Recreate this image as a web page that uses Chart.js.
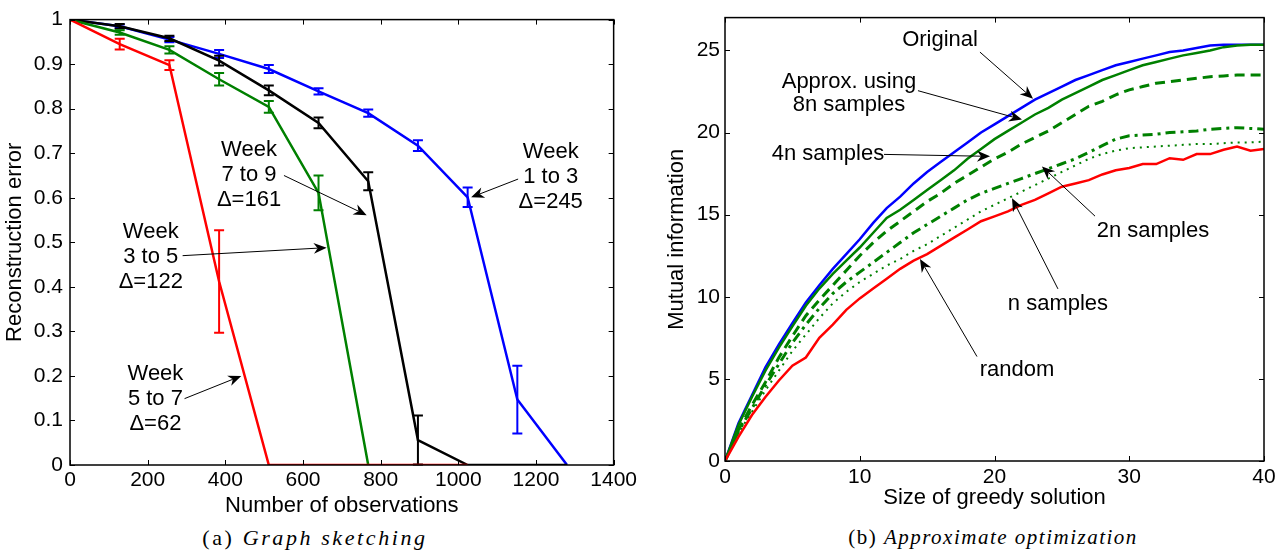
<!DOCTYPE html>
<html>
<head>
<meta charset="utf-8">
<script src="https://cdn.jsdelivr.net/npm/chart.js@4.4.1/dist/chart.umd.min.js"></script>
<style>
  body { margin: 0; background: #fff; width: 1280px; height: 550px; overflow: hidden; position: relative; }
  .box { position: absolute; top: 0; width: 640px; height: 520px; }
  #left { left: 0; }
  #right { left: 640px; }
  .cap { position: absolute; top: 525px; transform: translateX(-50%); white-space: nowrap;
         font-family: "Liberation Serif", "DejaVu Serif", serif; font-size: 21px; letter-spacing: 1.5px; }
</style>
</head>
<body>
<div class="box" id="left"><canvas id="sketchChart"></canvas></div>
<div class="box" id="right"><canvas id="optChart"></canvas></div>
<div class="cap" style="left:315px; font-size:22px; letter-spacing:2.6px">(a) <i>Graph sketching</i></div>
<div class="cap" style="left:993px">(b) <i>Approximate optimization</i></div>

<script>
// --- data: (a) graph sketching ---
const observations = [0, 128, 256, 384, 512, 640, 768, 896, 1024, 1152, 1280];
const week13 = [1, 0.985, 0.955, 0.923, 0.889, 0.839, 0.79, 0.717, 0.601, 0.147, 0];
const week13Err = [0, 0.004, 0.006, 0.009, 0.009, 0.007, 0.008, 0.012, 0.022, 0.076, 0];
const week79 = [1, 0.985, 0.958, 0.908, 0.841, 0.768, 0.637, 0.056, 0, 0, 0];
const week79Err = [0, 0.005, 0.006, 0.011, 0.011, 0.012, 0.02, 0.055, 0, 0, 0];
const week35 = [1, 0.971, 0.932, 0.866, 0.804, 0.611, 0];
const week35Err = [0, 0.005, 0.008, 0.014, 0.013, 0.039, 0];
const week57 = [1, 0.945, 0.898, 0.412, 0, 0, 0, 0, 0];
const week57Err = [0, 0.012, 0.011, 0.115, 0, 0, 0, 0, 0];
const sketchXTicks = [0, 1400, 200];
const sketchYTicks = [0, 1, 0.1];

// --- data: (b) approximate optimization ---
const greedySize = Array.from({ length: 41 }, (_, i) => i);
const original = [0, 2.3, 4.0, 5.7, 7.1, 8.4, 9.65, 10.7, 11.7, 12.6, 13.5, 14.5, 15.4, 16.1, 16.9, 17.6, 18.2, 18.8, 19.4, 20.0, 20.5,
  21.0, 21.5, 22.0, 22.4, 22.8, 23.2, 23.5, 23.8, 24.1, 24.3, 24.5, 24.7, 24.9, 25.0, 25.15, 25.3, 25.35, 25.35, 25.35, 25.35];
const samples8n = [0, 2.2, 3.9, 5.5, 6.9, 8.2, 9.45, 10.5, 11.4, 12.2, 13.0, 13.9, 14.8, 15.3, 15.9, 16.5, 17.1, 17.7, 18.4, 19.0, 19.6,
  20.1, 20.6, 21.1, 21.5, 22.0, 22.4, 22.8, 23.2, 23.5, 23.8, 24.1, 24.3, 24.5, 24.7, 24.85, 25.0, 25.2, 25.3, 25.35, 25.35];
const samples4n = [0, 1.9, 3.4, 4.8, 6.3, 7.6, 8.85, 9.8, 10.7, 11.6, 12.5, 13.3, 14.0, 14.6, 15.2, 15.8, 16.3, 16.9, 17.4, 17.9, 18.4,
  18.8, 19.3, 19.7, 20.1, 20.6, 21.1, 21.6, 21.9, 22.3, 22.6, 22.8, 23.0, 23.1, 23.2, 23.3, 23.4, 23.45, 23.5, 23.5, 23.5];
const samples2n = [0, 1.8, 3.2, 4.6, 5.9, 7.2, 8.3, 9.3, 10.2, 10.9, 11.5, 12.1, 12.7, 13.3, 13.9, 14.4, 14.9, 15.4, 15.9, 16.3, 16.6,
  16.9, 17.2, 17.5, 17.8, 18.1, 18.4, 18.8, 19.2, 19.6, 19.8, 19.85, 19.9, 20.0, 20.05, 20.1, 20.2, 20.25, 20.3, 20.25, 20.2];
const samples1n = [0, 1.7, 3.0, 4.3, 5.5, 6.7, 7.7, 8.7, 9.6, 10.3, 10.9, 11.4, 11.9, 12.3, 12.8, 13.2, 13.7, 14.2, 14.7, 15.2, 15.6,
  16.0, 16.4, 16.8, 17.2, 17.6, 18.0, 18.4, 18.7, 18.9, 19.05, 19.1, 19.15, 19.2, 19.25, 19.3, 19.3, 19.35, 19.4, 19.4, 19.45];
const randomSel = [0, 1.47, 2.8, 3.9, 4.9, 5.8, 6.3, 7.5, 8.3, 9.2, 9.9, 10.5, 11.1, 11.7, 12.2, 12.6, 13.1, 13.6, 14.1, 14.6, 14.9,
  15.2, 15.6, 15.9, 16.3, 16.7, 16.9, 17.1, 17.45, 17.7, 17.84, 18.08, 18.08, 18.44, 18.34, 18.69, 18.69, 18.95, 19.15, 18.9, 19.0];
const optXTicks = [0, 40, 10];
const optYTicks = [0, 27, 5];

// --- annotations (data coordinates) ---
const sketchNotes = [
  { text: ['Week', '1 to 3', 'Δ=245'], at: [1238, 0.646], from: [1154, 0.642], to: [1033, 0.601] },
  { text: ['Week', '7 to 9', 'Δ=161'], at: [461, 0.651], from: [551, 0.650], to: [764, 0.561] },
  { text: ['Week', '3 to 5', 'Δ=122'], at: [208, 0.468], from: [290, 0.470], to: [661, 0.488] },
  { text: ['Week', '5 to 7', 'Δ=62'], at: [220, 0.149], from: [295, 0.149], to: [441, 0.200] }
];
const optNotes = [
  { text: ['Original'], at: [15.96, 25.64], from: [18.92, 24.9], to: [22.86, 22.06] },
  { text: ['Approx. using', '8n samples'], at: [9.2, 22.4], lh: 23, from: [14.32, 22.55], to: [22.04, 20.79] },
  { text: ['4n samples'], at: [7.64, 18.67], from: [11.8, 18.67], to: [19.67, 18.55] },
  { text: ['2n samples'], at: [31.76, 14.0], from: [27.46, 14.91], to: [23.52, 17.94] },
  { text: ['n samples'], at: [24.71, 9.58], from: [24.71, 10.48], to: [21.3, 16.0] },
  { text: ['random'], at: [21.67, 5.52], from: [18.7, 6.36], to: [14.47, 12.3] }
];

const FONT = "'Liberation Sans', Arial, sans-serif";

const pairs = (xs, ys) => ys.map((v, i) => ({ x: xs[i], y: v }));

// error bars, drawn right after each dataset
const errorBars = {
  id: 'errorBars',
  afterDatasetDraw(chart, args) {
    const ds = chart.data.datasets[args.index];
    if (!ds.errors) return;
    const { ctx, scales: { x, y } } = chart;
    ctx.save();
    ctx.strokeStyle = ds.borderColor;
    ctx.lineWidth = 2;
    ds.data.forEach((p, i) => {
      const e = ds.errors[i];
      if (!e) return;
      const px = x.getPixelForValue(p.x);
      const top = y.getPixelForValue(p.y + e), bot = y.getPixelForValue(p.y - e);
      ctx.beginPath();
      ctx.moveTo(px, top); ctx.lineTo(px, bot);
      ctx.moveTo(px - 5, top); ctx.lineTo(px + 5, top);
      ctx.moveTo(px - 5, bot); ctx.lineTo(px + 5, bot);
      ctx.stroke();
    });
    ctx.restore();
  }
};

// matlab style box with inward ticks
const boxTicks = {
  id: 'boxTicks',
  afterDraw(chart) {
    const { ctx, chartArea: a, scales: { x, y } } = chart;
    ctx.save();
    ctx.strokeStyle = '#000';
    ctx.lineWidth = 1;
    ctx.beginPath();
    x.ticks.forEach(t => {
      const px = Math.round(x.getPixelForValue(t.value)) + 0.5;
      ctx.moveTo(px, a.bottom); ctx.lineTo(px, a.bottom - 5);
      ctx.moveTo(px, a.top); ctx.lineTo(px, a.top + 5);
    });
    y.ticks.forEach(t => {
      const py = Math.round(y.getPixelForValue(t.value)) + 0.5;
      ctx.moveTo(a.left, py); ctx.lineTo(a.left + 5, py);
      ctx.moveTo(a.right, py); ctx.lineTo(a.right - 5, py);
    });
    ctx.stroke();
    ctx.lineWidth = 1.5;
    ctx.strokeRect(a.left, a.top, a.right - a.left, a.bottom - a.top);
    ctx.restore();
  }
};

// text labels with arrows
const notes = {
  id: 'notes',
  afterDraw(chart, args, opts) {
    const { ctx, scales: { x, y } } = chart;
    (opts.items || []).forEach(n => {
      ctx.save();
      ctx.fillStyle = '#000';
      ctx.strokeStyle = '#000';
      ctx.font = '22px ' + FONT;
      ctx.textAlign = 'center';
      ctx.textBaseline = 'middle';
      const cx = x.getPixelForValue(n.at[0]), cy = y.getPixelForValue(n.at[1]);
      const lh = n.lh || 25;
      n.text.forEach((t, i) => ctx.fillText(t, cx, cy + (i - (n.text.length - 1) / 2) * lh));

      const x0 = x.getPixelForValue(n.from[0]), y0 = y.getPixelForValue(n.from[1]);
      const x1 = x.getPixelForValue(n.to[0]), y1 = y.getPixelForValue(n.to[1]);
      const ang = Math.atan2(y1 - y0, x1 - x0);
      const len = 13, half = 5.5;
      const bx = x1 - len * Math.cos(ang), by = y1 - len * Math.sin(ang);
      const nx = x1 - len * 0.7 * Math.cos(ang), ny = y1 - len * 0.7 * Math.sin(ang);
      ctx.lineWidth = 1;
      ctx.beginPath();
      ctx.moveTo(x0, y0); ctx.lineTo(nx, ny);
      ctx.stroke();
      ctx.beginPath();
      ctx.moveTo(x1, y1);
      ctx.lineTo(bx + half * Math.sin(ang), by - half * Math.cos(ang));
      ctx.lineTo(nx, ny);
      ctx.lineTo(bx - half * Math.sin(ang), by + half * Math.cos(ang));
      ctx.closePath();
      ctx.fill();
      ctx.restore();
    });
  }
};

function axes(xt, yt, sizes, titles, fmt) {
  return {
    x: {
      type: 'linear', min: xt[0], max: xt[1],
      grid: { display: false, drawTicks: false }, border: { display: false },
      ticks: { stepSize: xt[2], color: '#000', font: { family: FONT, size: 21 }, padding: sizes.xPad, maxRotation: 0,
               callback: v => String(v) },
      title: { display: true, text: titles[0], color: '#000', font: { family: FONT, size: 22 }, padding: { bottom: sizes.xTitle } },
      afterFit: s => { s.height = sizes.xh; }
    },
    y: {
      type: 'linear', min: yt[0], max: yt[1],
      grid: { display: false, drawTicks: false }, border: { display: false },
      ticks: { stepSize: yt[2], color: '#000', font: { family: FONT, size: 21 }, padding: sizes.yPad, callback: fmt },
      afterBuildTicks: s => { s.ticks = s.ticks.filter(t => Math.abs(t.value / yt[2] - Math.round(t.value / yt[2])) < 1e-6); },
      title: { display: true, text: titles[1], color: '#000', font: { family: FONT, size: 22 }, padding: { top: sizes.yTitle } },
      afterFit: s => { s.width = sizes.yw; }
    }
  };
}

const common = {
  responsive: true,
  maintainAspectRatio: false,
  animation: false,
  events: [],
  elements: { point: { radius: 0 }, line: { tension: 0, borderCapStyle: 'butt' } }
};

new Chart(document.getElementById('sketchChart'), {
  type: 'line',
  data: {
    datasets: [
      { data: pairs(observations, week13), errors: week13Err, borderColor: '#0000ff', borderWidth: 2.5, order: 4 },
      { data: pairs(observations, week79), errors: week79Err, borderColor: '#000000', borderWidth: 2.5, order: 3 },
      { data: pairs(observations, week35), errors: week35Err, borderColor: '#008000', borderWidth: 2.5, order: 2 },
      { data: pairs(observations, week57), errors: week57Err, borderColor: '#ff0000', borderWidth: 2.5, order: 1 }
    ]
  },
  options: {
    ...common,
    layout: { autoPadding: false, padding: { top: 16, right: 24, left: 0, bottom: 0 } },
    plugins: { legend: { display: false }, tooltip: { enabled: false }, notes: { items: sketchNotes } },
    scales: axes(sketchXTicks, sketchYTicks, { xh: 55, yw: 70, xPad: 3, yPad: 7, xTitle: 1, yTitle: 2 },
      ['Number of observations', 'Reconstruction error'], v => String(+v.toFixed(1)))
  },
  plugins: [errorBars, boxTicks, notes]
});

new Chart(document.getElementById('optChart'), {
  type: 'line',
  data: {
    datasets: [
      { data: pairs(greedySize, original), borderColor: '#0000ff', borderWidth: 2.5, order: 6 },
      { data: pairs(greedySize, samples8n), borderColor: '#008000', borderWidth: 2.5, order: 5 },
      { data: pairs(greedySize, samples4n), borderColor: '#008000', borderWidth: 3, borderDash: [10, 6], order: 4 },
      { data: pairs(greedySize, samples2n), borderColor: '#008000', borderWidth: 3, borderDash: [10, 5, 3, 5], order: 3 },
      { data: pairs(greedySize, samples1n), borderColor: '#008000', borderWidth: 2, borderDash: [2, 5], order: 2 },
      { data: pairs(greedySize, randomSel), borderColor: '#ff0000', borderWidth: 2.5, order: 1 }
    ]
  },
  options: {
    ...common,
    layout: { autoPadding: false, padding: { top: 17, right: 16, left: 0, bottom: 0 } },
    plugins: { legend: { display: false }, tooltip: { enabled: false }, notes: { items: optNotes } },
    scales: axes(optXTicks, optYTicks, { xh: 59, yw: 85, xPad: 4, yPad: 5, xTitle: 9, yTitle: 24 },
      ['Size of greedy solution', 'Mutual information'], v => String(v))
  },
  plugins: [errorBars, boxTicks, notes]
});
</script>
</body>
</html>
